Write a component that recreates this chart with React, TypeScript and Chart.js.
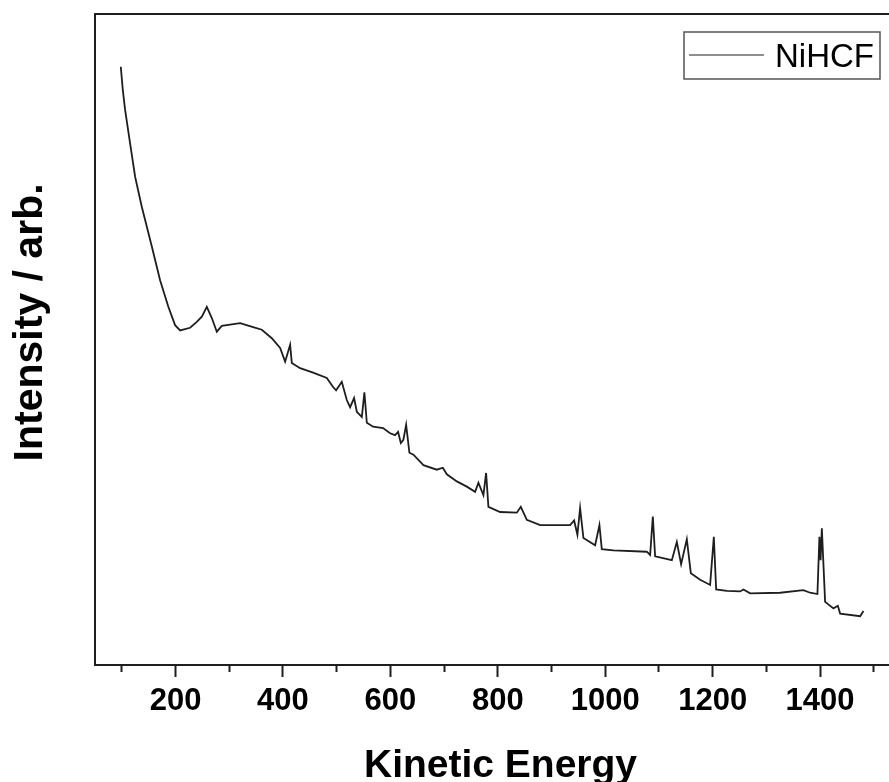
import { useEffect, useRef } from "react";
import { Chart, registerables } from "chart.js";

Chart.register(...registerables);

// ---- data ----
const seriesLabel = "NiHCF";
const xTitle = "Kinetic Energy";
const yTitle = "   Intensity / arb.";

const energy = [
  98, 101.8, 106, 115.4, 124.7, 137.1, 155.8, 171.2, 186.7, 199.1, 208.5, 227.1,
  239.5, 248.9, 258.2, 267.5, 276.8, 286.1, 320.2, 344.4, 360.6, 379.2, 394.7,
  404, 413.3, 416.4, 431.9, 456.1, 481.6, 493.3, 498.9, 509.5, 518.8, 525, 532.4,
  537.5, 546.8, 551.6, 556.1, 567.8, 586.4, 599.4, 608.7, 614.3, 619.4, 624.2,
  629.3, 635.4, 642.9, 661.5, 686.4, 697.6, 705.1, 723.7, 742.3, 757.7, 763.9,
  773.2, 778.2, 782.5, 804.3, 835.4, 842.8, 854, 878.8, 934.6, 942.1, 948.2,
  953.2, 959.4, 981.2, 989.2, 993.6, 1015.2, 1077.4, 1083.6, 1088.6, 1092.9,
  1124, 1133.3, 1141.3, 1151.9, 1159.4, 1176.7, 1195.3, 1202.2, 1206.5, 1226.4,
  1251.2, 1257.3, 1269.8, 1325.7, 1369, 1381.5, 1395.1, 1398.8, 1401, 1403.3,
  1409.4, 1424.9, 1433.1, 1437.4, 1474.7, 1480.8,
];

const intensity = [
  91.9, 88.3, 85.3, 80.1, 75.0, 70.4, 64.3, 59.1, 55.0, 52.2, 51.4, 51.8, 52.7,
  53.5, 55.0, 53.3, 51.2, 52.1, 52.5, 51.9, 51.5, 50.2, 48.7, 46.6, 49.2, 46.4,
  45.6, 44.9, 44.1, 42.7, 42.2, 43.5, 40.7, 39.6, 41.0, 38.9, 38.1, 41.9, 37.2,
  36.6, 36.4, 35.6, 35.3, 35.8, 34.1, 34.6, 36.9, 32.6, 32.3, 30.7, 30.0, 30.3,
  29.3, 28.2, 27.4, 26.6, 28.0, 26.1, 29.5, 24.3, 23.5, 23.4, 24.3, 22.3, 21.5,
  21.5, 22.2, 20.0, 24.1, 19.5, 18.4, 21.5, 17.8, 17.6, 17.4, 16.9, 22.8, 16.7,
  16.1, 18.9, 15.5, 19.3, 14.1, 13.1, 12.3, 19.7, 11.6, 11.4, 11.3, 11.6, 11.0,
  11.1, 11.5, 11.1, 10.9, 19.7, 16.1, 21.0, 9.7, 8.7, 9.1, 7.9, 7.5, 8.3,
];

const xMin = 50;
const xMax = 1560;
const yMin = 0;
const yMax = 100;
const xTickValues = [
  100, 200, 300, 400, 500, 600, 700, 800, 900, 1000, 1100, 1200, 1300, 1400, 1500,
];
const xLabelStep = 200;

// ---- styling ----
const FONT = "'Liberation Sans', Arial, Helvetica, sans-serif";
const INK = "#1e1e1e";

const framePlugin = {
  id: "frameTopRight",
  afterDraw(chart: any) {
    const { ctx, chartArea: a } = chart;
    ctx.save();
    ctx.strokeStyle = INK;
    ctx.lineWidth = 2;
    ctx.beginPath();
    ctx.moveTo(a.left - 1, a.top);
    ctx.lineTo(a.right, a.top);
    ctx.lineTo(a.right, a.bottom);
    ctx.stroke();
    ctx.restore();
  },
};

const legendBoxPlugin = {
  id: "legendBox",
  afterDraw(chart: any) {
    const { ctx, chartArea: a } = chart;
    const ds = chart.data.datasets[0];
    ctx.save();
    ctx.font = `33px ${FONT}`;
    const tw = ctx.measureText(ds.label).width;
    const right = a.right - 26;
    const top = a.top + 18;
    const h = 47;
    const padL = 5;
    const lineLen = 75;
    const gap = 11;
    const padR = 6;
    const w = padL + lineLen + gap + tw + padR;
    const left = right - w;
    ctx.strokeStyle = "#555";
    ctx.lineWidth = 1.5;
    ctx.strokeRect(left, top, w, h);
    ctx.strokeStyle = ds.borderColor;
    ctx.lineWidth = 1;
    ctx.beginPath();
    ctx.moveTo(left + padL, top + 23);
    ctx.lineTo(left + padL + lineLen, top + 23);
    ctx.stroke();
    ctx.fillStyle = "#000";
    ctx.textBaseline = "alphabetic";
    ctx.textAlign = "left";
    ctx.fillText(ds.label, left + padL + lineLen + gap, top + 35);
    ctx.restore();
  },
};

export default function App() {
  const ref = useRef<HTMLCanvasElement>(null);

  useEffect(() => {
    if (!ref.current) return;
    const points = energy.map((x, i) => ({ x, y: intensity[i] }));
    const chart = new Chart(ref.current, {
      type: "line",
      data: {
        datasets: [
          {
            label: seriesLabel,
            data: points,
            borderColor: INK,
            borderWidth: 1.8,
            pointRadius: 0,
            tension: 0,
            fill: false,
          },
        ],
      },
      options: {
        animation: false,
        responsive: false,
        maintainAspectRatio: false,
        devicePixelRatio: 1,
        layout: { padding: { top: 14, left: 0, right: 4, bottom: 0 } },
        plugins: {
          legend: { display: false },
          tooltip: { enabled: false },
        },
        scales: {
          x: {
            type: "linear",
            min: xMin,
            max: xMax,
            afterBuildTicks: (s: any) => {
              s.ticks = xTickValues.map((value) => ({ value }));
            },
            afterFit: (s: any) => {
              s.height = 125;
            },
            border: { display: true, color: INK, width: 2 },
            grid: {
              drawOnChartArea: false,
              drawTicks: true,
              tickLength: 12,
              tickWidth: 2,
              tickColor: INK,
              tickBorderDash: (c: any) =>
                c.tick && c.tick.value % xLabelStep === 0 ? [] : [6, 40],
            },
            ticks: {
              autoSkip: false,
              maxRotation: 0,
              minRotation: 0,
              padding: 6,
              color: "#000",
              font: { family: FONT, size: 31, weight: "bold" },
              callback: (v: any) => (Number(v) % xLabelStep === 0 ? String(v) : ""),
            },
            title: {
              display: true,
              text: xTitle,
              color: "#000",
              font: { family: FONT, size: 39, weight: "bold", lineHeight: 1.2 },
              padding: { top: 0, bottom: 0.6 },
            },
          },
          y: {
            type: "linear",
            min: yMin,
            max: yMax,
            afterFit: (s: any) => {
              s.width = 95;
            },
            border: { display: true, color: INK, width: 2 },
            grid: { drawOnChartArea: false, drawTicks: false },
            ticks: { display: false },
            title: {
              display: true,
              text: yTitle,
              color: "#000",
              font: { family: FONT, size: 41, weight: "bold", lineHeight: 1.2 },
              padding: { top: 6, bottom: 0 },
            },
          },
        },
      },
      plugins: [framePlugin, legendBoxPlugin],
    } as any);
    return () => chart.destroy();
  }, []);

  return (
    <div
      style={{
        position: "fixed",
        left: 0,
        top: 0,
        width: 889,
        height: 782,
        overflow: "hidden",
        background: "#fff",
      }}
    >
      <canvas
        ref={ref}
        width={910}
        height={790}
        style={{ display: "block", width: 910, height: 790 }}
      />
    </div>
  );
}
